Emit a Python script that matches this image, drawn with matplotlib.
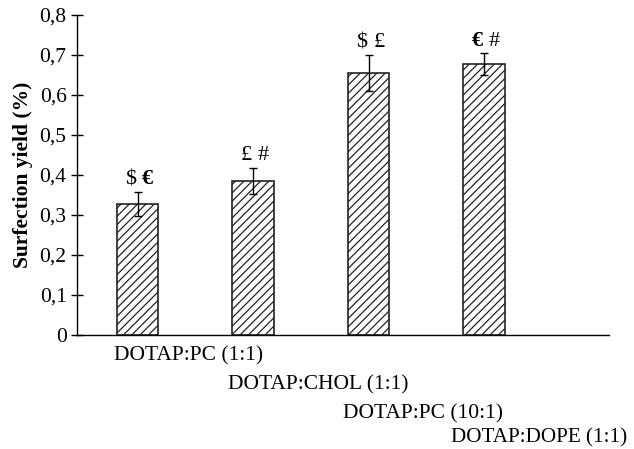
import matplotlib
matplotlib.use("Agg")
from matplotlib import pyplot as plt

# data
groups = ["DOTAP:PC (1:1)", "DOTAP:CHOL (1:1)", "DOTAP:PC (10:1)", "DOTAP:DOPE (1:1)"]
yields = [0.328, 0.385, 0.655, 0.677]
errors = [0.030, 0.033, 0.046, 0.028]
marks = [("$", "€"), ("£", "#"), ("$", "£"), ("€", "#")]
y_ticks = [0, 0.1, 0.2, 0.3, 0.4, 0.5, 0.6, 0.7, 0.8]
y_tick_labels = ["0", "0,1", "0,2", "0,3", "0,4", "0,5", "0,6", "0,7", "0,8"]


def main():
    plt.rcParams['font.family'] = ['Liberation Serif', 'DejaVu Serif']
    plt.rcParams['hatch.linewidth'] = 0.9

    fig = plt.figure(figsize=(6.34, 4.49), dpi=100)
    ax = fig.add_axes([0.1215, 0.2539, 0.9606 - 0.1215, 0.9666 - 0.2539])

    x = list(range(len(groups)))
    ax.bar(x, yields, width=0.36, color="white", edgecolor="#222222",
           hatch="////", linewidth=1.2, zorder=2)
    ax.errorbar(x, yields, yerr=errors, fmt="none", ecolor="black",
                elinewidth=1.0, capsize=3.2, capthick=1.0, zorder=3)

    # significance marks above each bar
    for i, (a, b) in enumerate(marks):
        top = yields[i] + errors[i] + 0.006
        wa = "bold" if a == "€" else "normal"
        wb = "bold" if b == "€" else "normal"
        ax.text(i - 0.01, top, a, ha="right", va="bottom", fontsize=16, fontweight=wa)
        ax.text(i + 0.04, top, b, ha="left", va="bottom", fontsize=16, fontweight=wb)

    ax.set_xlim(-0.524, 4.082)
    ax.set_ylim(0, 0.8)
    ax.set_yticks(y_ticks)
    ax.set_yticklabels(y_tick_labels, fontsize=15.5)
    ax.set_xticks([])
    ax.tick_params(axis="y", direction="inout", length=9, width=1.0, pad=3)

    ax.spines["top"].set_visible(False)
    ax.spines["right"].set_visible(False)
    ax.spines["left"].set_linewidth(1.0)
    ax.spines["bottom"].set_linewidth(1.0)

    ax.set_ylabel("Surfection yield (%)", fontsize=15.5, fontweight="bold", labelpad=5)

    # staggered category labels below the axis
    label_x = [-0.2, 0.78, 1.78, 2.71]
    label_y = [-0.052, -0.125, -0.198, -0.258]
    for i, name in enumerate(groups):
        ax.text(label_x[i], label_y[i], name, ha="left", va="center",
                fontsize=15.5 if i < 3 else 15.2, clip_on=False)

    fig.savefig("out.png", dpi=100)


if __name__ == "__main__":
    main()
